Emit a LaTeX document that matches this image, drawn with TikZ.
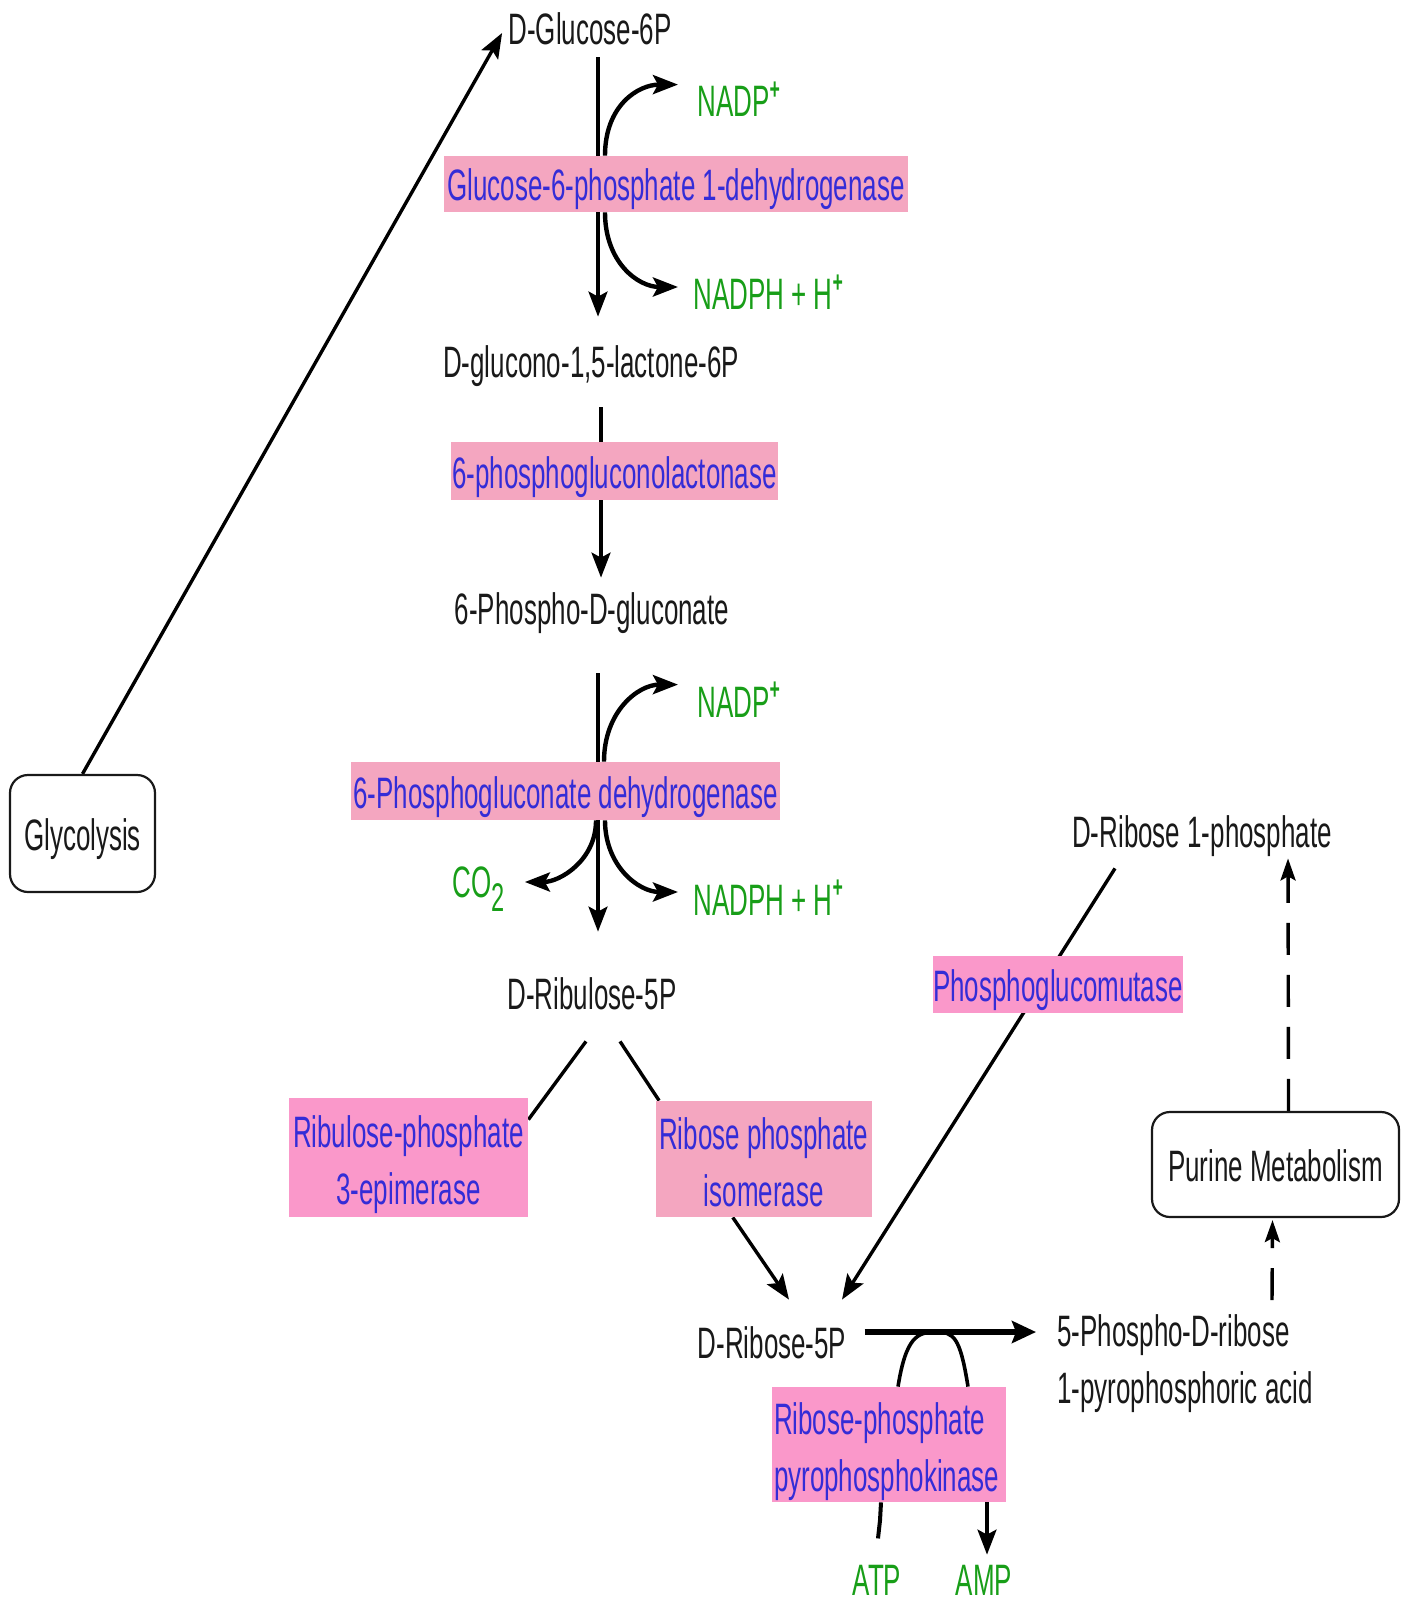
\documentclass[tikz,border=0pt]{standalone}
\usepackage{fontspec}
\setmainfont{Liberation Sans}[FakeStretch=0.59]
\usetikzlibrary{arrows.meta,calc}

\definecolor{enzblue}{RGB}{52,44,215}
\definecolor{cofgreen}{RGB}{24,158,24}
\definecolor{pinkA}{RGB}{244,166,192}
\definecolor{pinkB}{RGB}{250,152,202}
\definecolor{metgray}{RGB}{25,25,25}

\pgfdeclarelayer{links}
\pgfsetlayers{links,main}

\newcommand{\supplus}{\raisebox{0.40em}{\fontsize{15}{15}\selectfont\bfseries +}}
\newcommand{\firstline}{\rule{0pt}{23pt}}
\newcommand{\lastline}{\rule[-4.5pt]{0pt}{0pt}}

\tikzset{
  every node/.style={font=\fontsize{22}{28.5}\selectfont, inner sep=0pt},
  metab/.style={text=metgray, text height=16pt, text depth=4pt},
  cofac/.style={text=cofgreen, text height=16pt, text depth=4pt},
  enz/.style={fill=pinkA, text=enzblue, align=center},
  enzone/.style={enz, text height=18pt, text depth=1pt},
  pathbox/.style={draw=metgray, rounded corners=9pt, line width=1.1pt,
                  text=metgray, text height=18pt, text depth=1pt},
  tip/.style={-{Stealth[length=12.5pt,width=9.5pt,inset=2.5pt]}},
  arr/.style={line width=1.7pt, tip},
  bendarr/.style={line width=2.2pt, tip},
  link/.style={line width=1.7pt},
  dasharr/.style={line width=1.7pt, dash pattern=on 16pt off 10pt,
                  -{Stealth[length=11pt,width=7.5pt,inset=2pt]}},
}

\begin{document}
\begin{tikzpicture}[x=0.5pt,y=-0.5pt]
\useasboundingbox (0,0) rectangle (1412,1604);
\coordinate (ax) at (598,0);

% metabolites
\node[metab, anchor=base] (g6p)  at (590,45)   {D-Glucose-6P};
\node[metab, anchor=base] (lac)  at (591,378)  {D-glucono-1,5-lactone-6P};
\node[metab, anchor=base] (pg)   at (592,624)  {6-Phospho-D-gluconate};
\node[metab, anchor=base] (ru5p) at (592,1009) {D-Ribulose-5P};
\node[metab, anchor=base] (r5p)  at (772,1358) {D-Ribose-5P};
\node[metab, anchor=base] (r1p)  at (1202,847) {D-Ribose 1-phosphate};
\node[text=metgray, align=left, anchor=west] (prpp) at (1057,1364)
     {5-Phospho-D-ribose\\1-pyrophosphoric acid};

% cofactors
\node[cofac, anchor=base west] (nadpa)  at (697,117) {NADP\supplus};
\node[cofac, anchor=base west] (nadpha) at (693,310) {NADPH + H\supplus};
\node[cofac, anchor=base west] (nadpb)  at (697,717) {NADP\supplus};
\node[cofac, anchor=base west] (nadphb) at (693,915) {NADPH + H\supplus};
\node[cofac, anchor=base west] (co2)    at (452,897)
     {CO\raisebox{-0.32em}{\fontsize{20}{20}\selectfont 2}};
\node[cofac, anchor=base, text depth=0pt] (atp) at (877,1595) {ATP};
\node[cofac, anchor=base, text depth=0pt] (amp) at (984,1595) {AMP};

% enzymes
\node[enzone, minimum width=232pt, minimum height=28pt] (e1) at (676,184)
     {Glucose-6-phosphate 1-dehydrogenase};
\node[enzone, minimum width=163.5pt, minimum height=29pt] (e2) at (614.5,471)
     {6-phosphogluconolactonase};
\node[enzone, minimum width=214.5pt, minimum height=29pt] (e3) at (565.5,791)
     {6-Phosphogluconate dehydrogenase};
\node[enz, fill=pinkB, minimum width=119.5pt, minimum height=59.5pt] (e4) at (408.5,1157.5)
     {\firstline Ribulose-phosphate\\3-epimerase\lastline};
\node[enz, minimum width=108.25pt, minimum height=58pt] (e5) at (763.75,1159)
     {\firstline Ribose phosphate\\isomerase\lastline};
\node[enzone, fill=pinkB, minimum width=125pt, minimum height=28.5pt] (e6) at (1058,984.5)
     {Phosphoglucomutase};
\node[enz, fill=pinkB, align=left, inner xsep=1pt, text width=115pt,
      minimum width=117pt, minimum height=57.5pt] (e7) at (889,1444.5)
     {\firstline Ribose-phosphate\\pyrophosphokinase\lastline};

% pathway boxes
\node[pathbox, minimum width=72.5pt, minimum height=58.5pt] (glyc) at (82.5,833.5) {Glycolysis};
\node[pathbox, minimum width=123.5pt, minimum height=52.5pt] (pur) at (1275.5,1164.5) {Purine Metabolism};

\begin{pgfonlayer}{links}
  % oxidative branch
  \draw[arr] (glyc.north) -- ($(g6p.west)+(-6,0)$);
  \draw[arr] ($(g6p.south -| ax)+(0,4)$) -- ($(lac.north -| ax)+(0,-29)$);
  \draw[bendarr] ($(e1.north -| ax)+(7,0)$) .. controls +(0,-50) and +(-40,0) .. ($(nadpa.north west)+(-19,0)$);
  \draw[bendarr] ($(e1.south -| ax)+(7,0)$) .. controls +(0,50) and +(-40,0) .. ($(nadpha.west)+(-15,-11)$);
  \draw[arr] ($(lac.south -| ax)+(3,21)$) -- ($(pg.north -| ax)+(3,-14)$);
  \draw[arr] ($(pg.south -| ax)+(0,41)$) -- ($(ru5p.north -| ax)+(0,-45)$);
  \draw[bendarr] ($(e3.north -| ax)+(6,0)$) .. controls +(0,-50) and +(-40,0) .. ($(nadpb.north west)+(-19,0)$);
  \draw[bendarr] ($(e3.south -| ax)+(7,0)$) .. controls +(0,45) and +(-40,0) .. ($(nadphb.west)+(-15,-11)$);
  \draw[bendarr] ($(e3.south -| ax)+(-2,0)$) .. controls +(0,40) and +(35,0) .. ($(co2.east)+(20,-3)$);
  % non-oxidative branch
  \draw[link] ($(ru5p.south)+(-6,24)$) -- ($(e4.north east)+(0,22)$);
  \draw[link] ($(ru5p.south)+(28,24)$) -- ($(e5.north west)+(4,0)$);
  \draw[arr] ($(e5.south)+(-31,0)$) -- ($(r5p.north)+(17,-26)$);
  \draw[arr] ($(r1p.south)+(-87,13)$) -- ($(r5p.north)+(70,-26)$);
  % PRPP synthesis
  \draw[line width=3pt, -{Stealth[length=12pt,width=11pt,inset=2pt]}]
       ($(r5p.east)+(18,-14)$) -- ($(prpp.west)+(-21,-32)$);
  \draw[line width=1.8pt] ($(e7.north)+(9,0)$) .. controls +(8,-50) and +(-18,0) .. ($(r5p.east)+(89,-14)$)
        .. controls +(18,0) and +(-8,-50) .. ($(e7.north)+(79,0)$);
  \draw[line width=2pt] ($(e7.south)+(-8,0)$) -- ++(-1,18) -- ++(-2,18);
  \draw[arr] ($(e7.south)+(98,0)$) -- ($(amp.north)+(3,-8)$);
  \draw[dasharr] ($(prpp.west)+(215,-64)$) -- ($(pur.south)+(-3,2)$);
  \draw[dasharr] ($(pur.north)+(13,0)$) -- ($(r1p.south)+(86,3)$);
\end{pgfonlayer}
\end{tikzpicture}
\end{document}
